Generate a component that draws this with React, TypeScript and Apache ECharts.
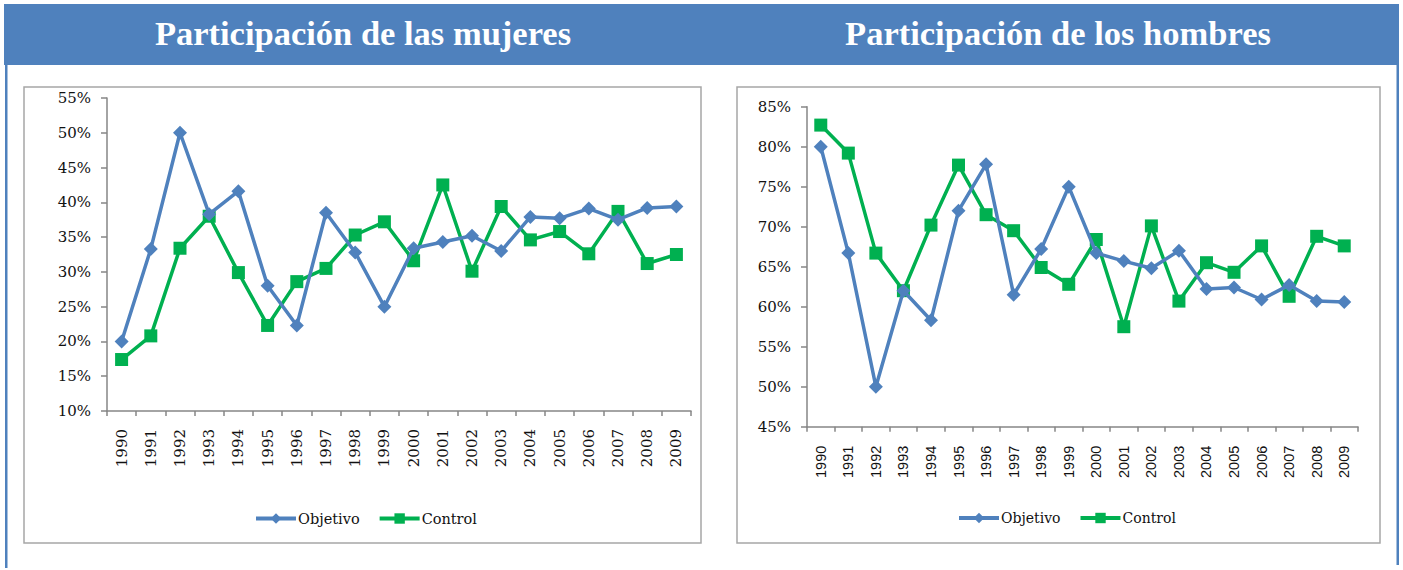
import React, { useEffect, useRef } from "react";
import * as echarts from "echarts";

const years = ["1990","1991","1992","1993","1994","1995","1996","1997","1998","1999","2000","2001","2002","2003","2004","2005","2006","2007","2008","2009"];

const mujeresObjetivo = [20.0, 33.3, 50.0, 38.3, 41.6, 28.0, 22.3, 38.5, 32.8, 25.0, 33.4, 34.3, 35.2, 33.0, 37.9, 37.7, 39.1, 37.5, 39.2, 39.4];
const mujeresControl = [17.4, 20.8, 33.4, 38.0, 29.9, 22.3, 28.6, 30.5, 35.3, 37.2, 31.6, 42.5, 30.1, 39.4, 34.6, 35.8, 32.6, 38.7, 31.2, 32.5];

const hombresObjetivo = [80.0, 66.7, 50.0, 62.0, 58.3, 72.0, 77.8, 61.5, 67.2, 75.0, 66.7, 65.7, 64.8, 67.0, 62.2, 62.4, 60.9, 62.7, 60.7, 60.6];
const hombresControl = [82.7, 79.2, 66.7, 62.0, 70.2, 77.7, 71.5, 69.5, 64.9, 62.8, 68.4, 57.5, 70.1, 60.7, 65.5, 64.3, 67.6, 61.3, 68.8, 67.6];

const titleLeft = "Participación de las mujeres";
const titleRight = "Participación de los hombres";
const seriesNames = ["Objetivo", "Control"];

const BLUE = "#4F81BD";
const GREEN = "#00B050";
const AXIS = "#868686";

export default function App() {
  const ref = useRef<HTMLDivElement>(null);
  useEffect(() => {
    if (!ref.current) return;
    const chart = echarts.init(ref.current, null, { renderer: "svg" });
    const serif = "'DejaVu Serif', serif";
    const xAxisBase = (gridIndex: number, font: string, size: number, margin: number) => ({
      type: "category",
      gridIndex,
      data: years,
      boundaryGap: true,
      axisLine: { show: true, lineStyle: { color: AXIS, width: 1.5 } },
      axisTick: { show: true, length: 5, lineStyle: { color: AXIS, width: 1.5 } },
      axisLabel: { rotate: 90, interval: 0, margin, color: "#111", fontFamily: font, fontSize: size },
      splitLine: { show: false },
    });
    const yAxisBase = (gridIndex: number, min: number, max: number) => ({
      type: "value",
      gridIndex,
      min,
      max,
      interval: 5,
      axisLine: { show: true, lineStyle: { color: AXIS, width: 1.5 } },
      axisTick: { show: true, length: 6, lineStyle: { color: AXIS, width: 1.5 } },
      axisLabel: { formatter: "{value}%", margin: 16, color: "#111", fontFamily: serif, fontSize: 15 },
      splitLine: { show: false },
    });
    const mk = (name: string, data: number[], idx: number) => ({
      name,
      type: "line",
      xAxisIndex: idx,
      yAxisIndex: idx,
      data,
      symbol: name === "Objetivo" ? "diamond" : "rect",
      symbolSize: name === "Objetivo" ? 14 : 13,
      lineStyle: { width: 3.5, color: name === "Objetivo" ? BLUE : GREEN },
      itemStyle: { color: name === "Objetivo" ? BLUE : GREEN },
      z: name === "Objetivo" ? 3 : 2,
    });
    const legendBase = (left: number, size: number) => ({
      left,
      top: 506,
      data: seriesNames,
      itemWidth: 40,
      itemHeight: 13,
      itemGap: 18,
      lineStyle: { width: 4 },
      textStyle: { fontFamily: serif, fontSize: size, color: "#111", padding: [0, 0, 0, -3] },
    });
    chart.setOption({
      animation: false,
      backgroundColor: "#fff",
      grid: [
        { left: 107, top: 98, width: 584, height: 313 },
        { left: 807, top: 106.7, width: 551, height: 320 },
      ],
      xAxis: [xAxisBase(0, serif, 15, 18), xAxisBase(1, "'Liberation Sans', sans-serif", 14.5, 19)],
      yAxis: [yAxisBase(0, 10, 55), yAxisBase(1, 45, 85)],
      legend: [legendBase(249, 14.5), legendBase(952, 14)],
      series: [
        mk("Objetivo", mujeresObjetivo, 0),
        mk("Control", mujeresControl, 0),
        mk("Objetivo", hombresObjetivo, 1),
        mk("Control", hombresControl, 1),
      ],
      graphic: [
        { type: "rect", z: -10, shape: { x: 24, y: 87, width: 677, height: 456 }, style: { fill: "#fff", stroke: "#a6a6a6", lineWidth: 1.5 } },
        { type: "rect", z: -10, shape: { x: 737, y: 87, width: 643, height: 456 }, style: { fill: "#fff", stroke: "#a6a6a6", lineWidth: 1.5 } },
        { type: "rect", z: -5, shape: { x: 4, y: 4, width: 1395, height: 61 }, style: { fill: BLUE } },
        { type: "rect", z: -5, shape: { x: 5, y: 4, width: 2.5, height: 564 }, style: { fill: BLUE } },
        { type: "rect", z: -5, shape: { x: 1396.5, y: 4, width: 2.5, height: 561 }, style: { fill: BLUE } },
        { type: "text", x: 363, y: 33, style: { text: titleLeft, fill: "#fff", font: "bold 34.5px 'Liberation Serif', serif", textAlign: "center", textVerticalAlign: "middle" } },
        { type: "text", x: 1058, y: 33, style: { text: titleRight, fill: "#fff", font: "bold 34.5px 'Liberation Serif', serif", textAlign: "center", textVerticalAlign: "middle" } },
      ],
    });
    return () => chart.dispose();
  }, []);
  return <div ref={ref} style={{ position: "absolute", left: 0, top: 0, width: 1403, height: 570 }} />;
}
